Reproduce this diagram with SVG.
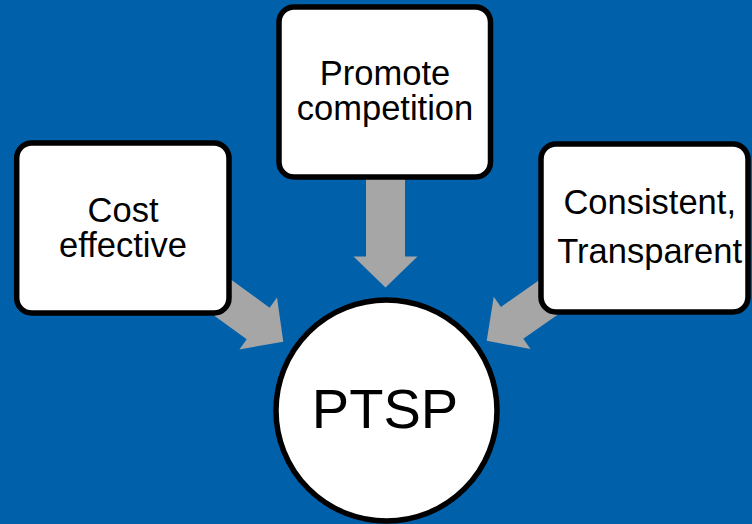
<svg xmlns="http://www.w3.org/2000/svg" width="752" height="524" viewBox="0 0 752 524">
<defs>
<style>
.bg{fill:#0061AA}
.box{fill:#FFFFFF;stroke:#000000;stroke-width:5.5}
.arrow{fill:#A6A6A6}
.lbl{font-family:"Liberation Sans",Arial,sans-serif;font-size:34.5px;fill:#000000;text-anchor:middle}
.big{font-family:"Liberation Sans",Arial,sans-serif;font-size:56px;fill:#000000;text-anchor:middle}
</style>
<path id="arr" d="M-90,-19.5 L0,-19.5 L0,-32 L31,0 L0,32 L0,19.5 L-90,19.5 Z"/>
</defs>
<rect class="bg" x="0" y="0" width="752" height="524"/>
<g id="connectors">
<use href="#arr" class="arrow" transform="translate(385.5,256.5) rotate(90)"/>
<use href="#arr" class="arrow" transform="translate(258.2,323.5) rotate(36)"/>
<use href="#arr" class="arrow" transform="translate(512.1,322.9) rotate(145)"/>
</g>
<g id="node-promote">
<rect class="box" x="279" y="7" width="211.5" height="170" rx="15"/>
<text class="lbl" x="385" y="85">Promote</text>
<text class="lbl" x="385" y="120">competition</text>
</g>
<g id="node-cost">
<rect class="box" x="16.7" y="143" width="212.3" height="170" rx="15"/>
<text class="lbl" x="123" y="222">Cost</text>
<text class="lbl" x="123" y="257">effective</text>
</g>
<g id="node-consistent">
<rect class="box" x="541" y="144" width="207" height="168" rx="15"/>
<text class="lbl" x="649.7" y="214">Consistent,</text>
<text class="lbl" x="649.7" y="263">Transparent</text>
</g>
<g id="node-ptsp">
<circle class="box" cx="386.5" cy="410.5" r="110.5"/>
<text class="big" x="385" y="428">PTSP</text>
</g>
</svg>
